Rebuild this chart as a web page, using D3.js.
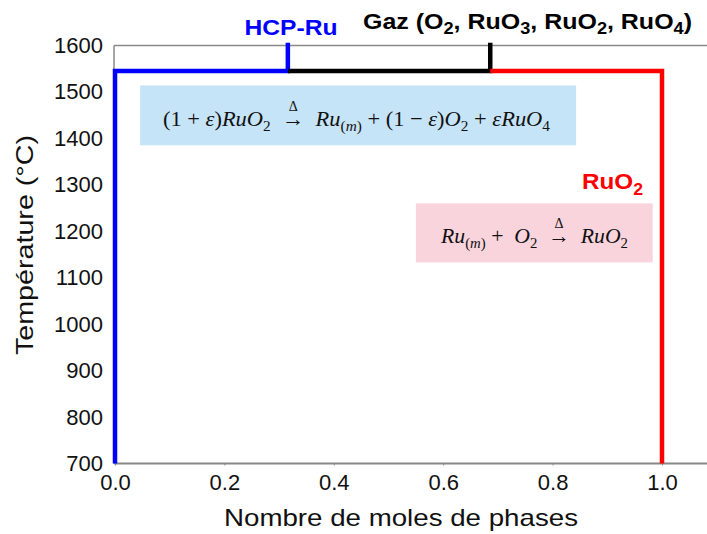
<!DOCTYPE html>
<html><head><meta charset="utf-8">
<script src="https://cdn.jsdelivr.net/npm/d3@7"></script>
<style>body{margin:0;background:#fff}svg{display:block}text{white-space:pre}</style>
</head><body>
<svg id="c" width="707" height="534"></svg>
<script>
const xTicks = [0, 0.2, 0.4, 0.6, 0.8, 1.0];
const yTicks = [700, 800, 900, 1000, 1100, 1200, 1300, 1400, 1500, 1600];
const blueRu = [[0, 700], [0, 1545], [0.316, 1545], [0.316, 1606]];
const blackGaz = [[0.316, 1545], [0.686, 1545], [0.686, 1606]];
const redRuO2 = [[0.686, 1545], [1.0, 1545], [1.0, 700]];

const svg = d3.select("#c");
const W = 707, H = 534;
const x = d3.scaleLinear().domain([0, 1.0]).range([115, 662]);
const y = d3.scaleLinear().domain([700, 1600]).range([463.5, 45.5]);
const font = "'Liberation Sans', Arial, sans-serif";
const ser = "'Liberation Serif', 'DejaVu Serif', serif";

// boxes
const box1 = {x0: 0.046, x1: 0.843, t0: 1514, t1: 1385};
svg.append("rect").attr("x", x(box1.x0)).attr("y", y(box1.t0)).attr("width", x(box1.x1) - x(box1.x0)).attr("height", y(box1.t1) - y(box1.t0)).attr("fill", "#c6e4f7");
const box2 = {x0: 0.550, x1: 0.983, t0: 1260, t1: 1133};
svg.append("rect").attr("x", x(box2.x0)).attr("y", y(box2.t0)).attr("width", x(box2.x1) - x(box2.x0)).attr("height", y(box2.t1) - y(box2.t0)).attr("fill", "#f9d4dc");

// frame
svg.append("line").attr("x1", x(0) - 1).attr("x2", W).attr("y1", y(1600)).attr("y2", y(1600)).attr("stroke", "#888").attr("stroke-width", 1.5);
svg.append("line").attr("x1", x(0) - 1).attr("x2", x(0) - 1).attr("y1", y(1600)).attr("y2", y(700)).attr("stroke", "#888").attr("stroke-width", 1.5);

// axes
const gx = svg.append("g").attr("transform", `translate(0,${y(700)})`)
  .call(d3.axisBottom(x).tickValues(xTicks).tickFormat(d3.format(".1f")).tickSize(2).tickPadding(9));
gx.select(".domain").attr("d", `M${x(0) - 1},0H${W}`).attr("stroke", "#888").attr("stroke-width", 2);
gx.selectAll(".tick line").attr("stroke", "#888");
gx.selectAll("text").attr("font-family", font).attr("font-size", 22).attr("fill", "#111");

const gy = svg.append("g").attr("transform", `translate(${x(0)},0)`)
  .call(d3.axisLeft(y).tickValues(yTicks).tickFormat(d3.format("d")).tickSize(0).tickPadding(12));
gy.select(".domain").remove();
gy.selectAll("text").attr("font-family", font).attr("font-size", 22).attr("fill", "#111");

// lines
const line = d3.line().x(d => x(d[0])).y(d => y(d[1]));
[[blueRu, "#0000ff"], [blackGaz, "#000"], [redRuO2, "#ff0000"]].forEach(([d, c]) => {
  svg.append("path").datum(d).attr("d", line).attr("fill", "none").attr("stroke", c).attr("stroke-width", 4.5).attr("stroke-linejoin", "miter");
});

// axis titles
svg.append("text").attr("x", 401).attr("y", 526).attr("text-anchor", "middle").attr("font-family", font).attr("font-size", 24).attr("fill", "#111")
  .attr("textLength", 354).attr("lengthAdjust", "spacingAndGlyphs").text("Nombre de moles de phases");
svg.append("text").attr("transform", "translate(33,245) rotate(-90)").attr("text-anchor", "middle").attr("font-family", font).attr("font-size", 24).attr("fill", "#111")
  .attr("textLength", 220).attr("lengthAdjust", "spacingAndGlyphs").text("Température (°C)");

// rich text helper: parts [text, mode] with mode n | i | sub | subi
function rich(attrs, parts, subSize, shift) {
  const el = svg.append("text");
  Object.entries(attrs).forEach(([k, v]) => el.attr(k, v));
  let low = false;
  parts.forEach(([t, mode]) => {
    const ts = el.append("tspan").text(t);
    const isSub = mode === "sub" || mode === "subi";
    if (isSub && !low) { ts.attr("dy", shift); low = true; }
    if (!isSub && low) { ts.attr("dy", -shift); low = false; }
    if (isSub) ts.attr("font-size", subSize);
    if (mode === "i" || mode === "subi") ts.attr("font-style", "italic");
  });
  return el;
}

// phase labels
rich({x: 291, y: 35, "text-anchor": "middle", "font-family": font, "font-size": 22, "font-weight": "bold", fill: "#0000ff", textLength: 93, lengthAdjust: "spacingAndGlyphs"},
  [["HCP-Ru", "n"]], 14, 4);
rich({x: 363, y: 29, "font-family": font, "font-size": 22, "font-weight": "bold", fill: "#000", textLength: 329, lengthAdjust: "spacingAndGlyphs"},
  [["Gaz (O", "n"], ["2", "sub"], [", RuO", "n"], ["3", "sub"], [", RuO", "n"], ["2", "sub"], [", RuO", "n"], ["4", "sub"], [")", "n"]], 16, 5);
rich({x: 582, y: 189, "font-family": font, "font-size": 22, "font-weight": "bold", fill: "#ff0000", textLength: 61, lengthAdjust: "spacingAndGlyphs"},
  [["RuO", "n"], ["2", "sub"]], 16, 6);

// equations
const eq1 = rich({x: 163, y: 126, "font-family": ser, "font-size": 22, fill: "#111", textLength: 387, lengthAdjust: "spacingAndGlyphs"},
  [["(1 + ", "n"], ["ε", "i"], [")", "n"], ["RuO", "i"], ["2", "sub"], ["  →  ", "n"], ["Ru", "i"], ["(", "sub"], ["m", "subi"], [")", "sub"],
   [" + (1 − ", "n"], ["ε", "i"], [")", "n"], ["O", "i"], ["2", "sub"], [" + ", "n"], ["εRuO", "i"], ["4", "sub"]], 15, 5);
const eq2 = rich({x: 441, y: 243, "font-family": ser, "font-size": 22, fill: "#111", textLength: 187, lengthAdjust: "spacingAndGlyphs"},
  [["Ru", "i"], ["(", "sub"], ["m", "subi"], [")", "sub"], [" +  ", "n"], ["O", "i"], ["2", "sub"], ["  →  ", "n"], ["RuO", "i"], ["2", "sub"]], 15, 5);

// delta marks over reaction arrows
function deltaOver(textEl) {
  const node = textEl.node();
  const s = node.textContent;
  const idx = s.indexOf("→");
  const ext = node.getExtentOfChar(idx);
  svg.append("text").attr("x", ext.x + ext.width / 2).attr("y", ext.y + 5).attr("text-anchor", "middle")
    .attr("font-family", ser).attr("font-size", 14).attr("fill", "#111").text("Δ");
}
deltaOver(eq1); deltaOver(eq2);
</script>
</body></html>
